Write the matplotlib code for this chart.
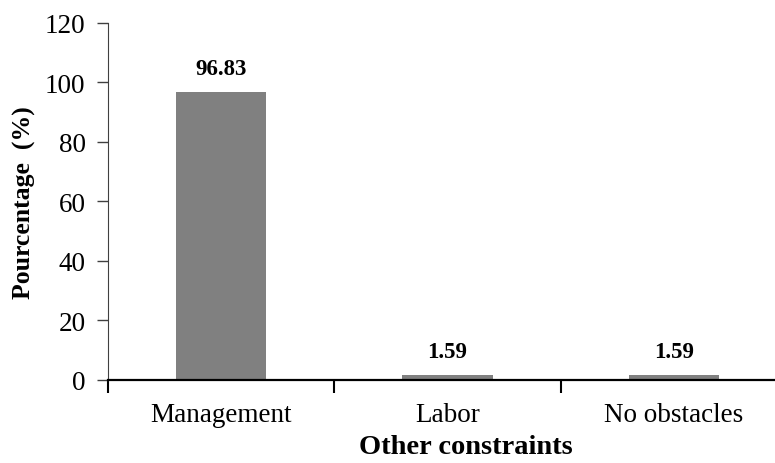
import matplotlib
matplotlib.use("Agg")
import matplotlib.pyplot as plt

categories = ["Management", "Labor", "No obstacles"]
values = [96.83, 1.59, 1.59]
yticks = [0, 20, 40, 60, 80, 100, 120]

plt.rcParams['font.family'] = ['Liberation Serif', 'DejaVu Serif']

fig = plt.figure(figsize=(7.75, 4.64), dpi=100)
ax = fig.add_axes([0.139, 0.179, 0.877, 0.770])
x = list(range(len(categories)))
ax.bar(x, values, width=0.4, color='#808080')
for xi, v in zip(x, values):
    ax.text(xi, v + 4.3, f"{v:.2f}", ha='center', va='bottom', fontsize=16.5, fontweight='bold')

ax.set_xlim(-0.5, 2.5)
ax.set_ylim(0, 120)
ax.set_yticks(yticks)
ax.set_yticklabels([str(t) for t in yticks], fontsize=19.5)
ax.set_xticks([-0.5, 0.5, 1.5, 2.5])
ax.set_xticklabels([])
ax.set_xticks(x, minor=True)
ax.set_xticklabels(categories, minor=True, fontsize=19.5)
ax.tick_params(axis='x', which='minor', length=0, pad=16)
ax.tick_params(axis='x', which='major', length=9, width=1.5, direction='out')
ax.tick_params(axis='y', length=8, width=1, direction='out', pad=8, color='#404040')
for s in ['top', 'right']:
    ax.spines[s].set_visible(False)
ax.spines['bottom'].set_linewidth(1.6)
ax.spines['left'].set_color('#404040')
ax.set_xlabel("Other constraints", fontsize=20.5, fontweight='bold')
ax.set_ylabel("Pourcentage  (%)", fontsize=18.5, fontweight='bold')
ax.xaxis.set_label_coords(0.527, -0.152)
ax.yaxis.set_label_coords(-0.106, 0.5)

fig.savefig("out.png", dpi=100)
